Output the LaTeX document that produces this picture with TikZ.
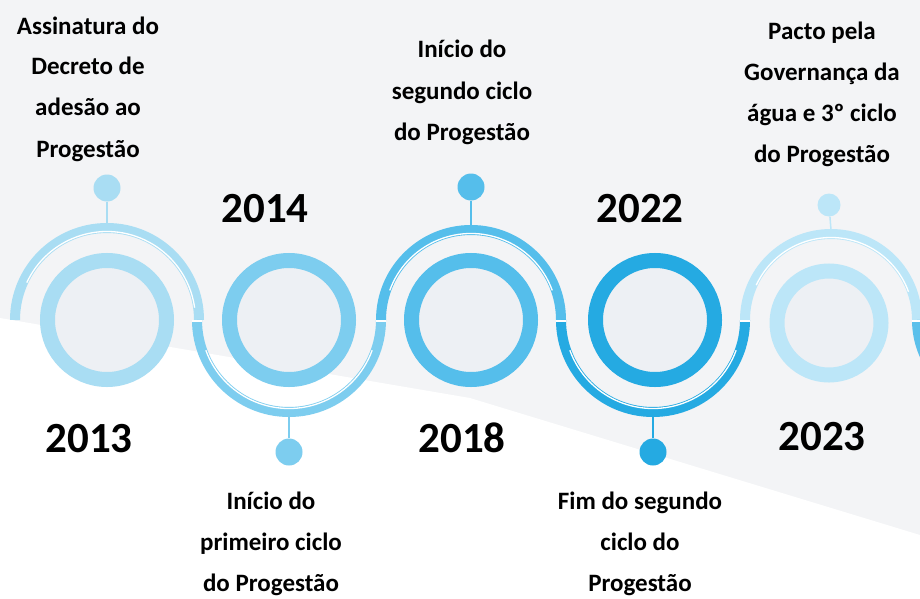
\documentclass[tikz,border=0pt]{standalone}
\usepackage{fontspec}
\setmainfont{Carlito}
\definecolor{bggray}{HTML}{F3F4F6}
\definecolor{innerfill}{HTML}{EDF0F4}
\definecolor{cA}{HTML}{A9DDF3}
\definecolor{cB}{HTML}{7DCDEF}
\definecolor{cC}{HTML}{55BEEB}
\definecolor{cD}{HTML}{25AAE2}
\definecolor{cE}{HTML}{BCE6F8}
\definecolor{cF}{HTML}{5BC0EB}
\tikzset{
  ring/.style={circle, line width=15pt, minimum size=119pt, inner sep=0pt, fill=innerfill},
  band/.style={line width=10pt},
  shine/.style={white, line width=1.3pt},
  notch/.style={white, line width=1.2pt},
  pinball/.style={circle, minimum size=27pt, inner sep=0pt},
  stem/.style={line width=1.5pt},
  year/.style={font=\bfseries\fontsize{43}{50}\selectfont, anchor=base, inner sep=0pt},
  label/.style={font=\bfseries\fontsize{25}{41}\selectfont, align=center, anchor=base, inner sep=0pt},
}
\begin{document}
\begin{tikzpicture}[x=1pt,y=-1pt]
\useasboundingbox (0,0) rectangle (920,599);
\fill[bggray] (0,0) rectangle (920,599);
\fill[white] (0,318) -- (470,398) -- (920,535) -- (920,599) -- (0,599) -- cycle;

\begin{scope}
\clip (0,0) rectangle (920,599);
% wave arcs
\draw[band, cA] (15,320) arc[start angle=180, end angle=360, radius=92];
\draw[shine] (107,320) ++(205:88.5) arc[start angle=205, end angle=352, radius=88.5];
\draw[band, cB] (197,320) arc[start angle=180, end angle=0, radius=92];
\draw[shine] (289,320) ++(160:88.5) arc[start angle=160, end angle=20, radius=88.5];
\draw[band, cC] (381,320) arc[start angle=180, end angle=360, radius=90];
\draw[shine] (471,320) ++(200:86.5) arc[start angle=200, end angle=340, radius=86.5];
\draw[band, cD] (561,320) arc[start angle=180, end angle=0, radius=92];
\draw[shine] (653,320) ++(160:88.5) arc[start angle=160, end angle=20, radius=88.5];
\draw[band, cE] (745,320) arc[start angle=180, end angle=360, radius=86];
\draw[shine] (831,320) ++(205:82.5) arc[start angle=205, end angle=340, radius=82.5];
\draw[band, cF] (917,320) arc[start angle=180, end angle=100, radius=86];
% notches at joints
\draw[notch] (192,321) -- (202,321);
\draw[notch] (376,321) -- (386,321);
\draw[notch] (556,321) -- (566,321);
\draw[notch] (740,321) -- (750,321);
\draw[notch] (912,321) -- (920,321);
\end{scope}

% rings
\node[ring, draw=cA] (r1) at (107,320) {};
\node[ring, draw=cB] (r2) at (289,320) {};
\node[ring, draw=cC] (r3) at (471,320) {};
\node[ring, draw=cD] (r4) at (655,320) {};
\node[ring, draw=cE, minimum size=104pt] (r5) at (829,323) {};

% pins
\coordinate (t1) at (107,224);
\coordinate (t2) at (289,416);
\coordinate (t3) at (471,226);
\coordinate (t4) at (653,416);
\coordinate (t5) at (831,230);
\node[pinball, fill=cA] (p1) at (107,188) {};
\node[pinball, fill=cB] (p2) at (289,452) {};
\node[pinball, fill=cC] (p3) at (471,187) {};
\node[pinball, fill=cD] (p4) at (653,452) {};
\node[pinball, fill=cE, minimum size=23pt] (p5) at (829,205) {};
\draw[stem, cA] (p1) -- (t1);
\draw[stem, cB] (p2) -- (t2);
\draw[stem, cC] (p3) -- (t3);
\draw[stem, cD] (p4) -- (t4);
\draw[stem, cE] (p5) -- (t5);

% years
\node[year] (y2013) at (89,452) {2013};
\node[year] (y2014) at (265,222) {2014};
\node[year] (y2018) at (462,452) {2018};
\node[year] (y2022) at (640,222) {2022};
\node[year] (y2023) at (822,450) {2023};

% labels (anchored at the baseline of their last line)
\node[label] (l1) at (88,157) {Assinatura do\\Decreto de\\adesão ao\\Progestão};
\node[label] (l2) at (271,591) {Início do\\primeiro ciclo\\do Progestão};
\node[label] (l3) at (462,140) {Início do\\segundo ciclo\\do Progestão};
\node[label] (l4) at (640,591) {Fim do segundo\\ciclo do\\Progestão};
\node[label] (l5) at (822,162) {Pacto pela\\Governança da\\água e 3º ciclo\\do Progestão};
\end{tikzpicture}
\end{document}
